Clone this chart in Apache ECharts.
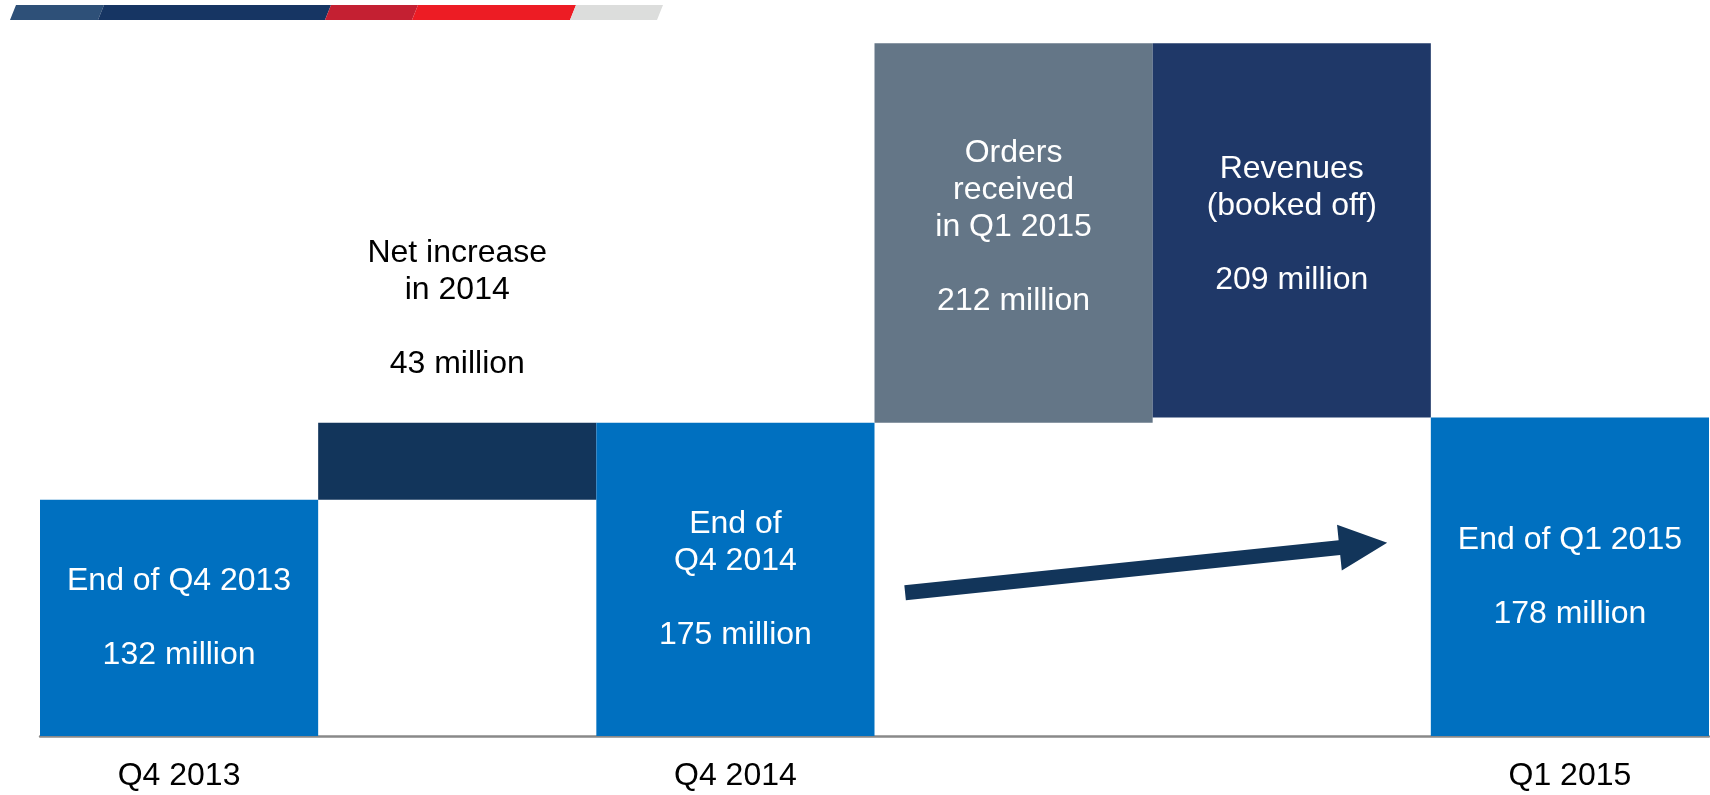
<!DOCTYPE html>
<html>
<head>
<meta charset="utf-8">
<script src="https://cdn.jsdelivr.net/npm/echarts@6/dist/echarts.min.js"></script>
<style>
html,body{margin:0;padding:0;background:#fff;}
#chart{width:1710px;height:795px;}
</style>
</head>
<body>
<div id="chart"></div>
<script>
// ---- data ----
const categories = ['Q4 2013', 'Net increase 2014', 'Q4 2014', 'Orders Q1 2015', 'Revenues Q1 2015', 'Q1 2015'];
const tickLabels = ['Q4 2013', '', 'Q4 2014', '', '', 'Q1 2015'];
const baseValues = [0, 132, 0, 175, 178, 0];
const barValues = [132, 43, 175, 212, 209, 178];
const barLabels = [
  'End of Q4 2013\n\n132 million',
  'Net increase\nin 2014\n\n43 million',
  'End of\nQ4 2014\n\n175 million',
  'Orders\nreceived\nin Q1 2015\n\n212 million',
  'Revenues\n(booked off)\n\n209 million',
  'End of Q1 2015\n\n178 million'
];
const barColors = ['#0070C0', '#12355B', '#0070C0', '#647687', '#1F3868', '#0070C0'];
// arrow annotation, in category index (+ band fraction) and value units
const arrowFrom = { cat: 3, offset: -0.39, value: 80 };
const arrowTo = { cat: 4, offset: 0.343, value: 108 };

const FONT = '"Liberation Sans", Arial, sans-serif';
const chart = echarts.init(document.getElementById('chart'));

const mainData = barValues.map((v, i) => {
  const isNet = i === 1;
  const isTop = i === 3 || i === 4;
  return {
    value: v,
    itemStyle: { color: barColors[i] },
    label: {
      show: true,
      formatter: barLabels[i],
      position: isNet ? 'top' : 'inside',
      distance: isNet ? 40 : 5,
      offset: isTop ? [0, -6] : [0, 0],
      color: isNet ? '#000000' : '#ffffff',
      fontSize: 32,
      lineHeight: 37,
      fontFamily: FONT,
      align: 'center'
    }
  };
});

chart.setOption({
  animation: false,
  grid: { left: 40, right: 1, top: 20, bottom: 57 },
  xAxis: {
    type: 'category',
    data: categories,
    axisTick: { show: false },
    axisLine: { show: true, lineStyle: { color: '#898989', width: 2.5 } },
    axisLabel: {
      interval: 0,
      margin: 22,
      color: '#000000',
      fontSize: 32,
      lineHeight: 37,
      fontFamily: FONT,
      formatter: (v, idx) => tickLabels[idx]
    }
  },
  yAxis: { type: 'value', min: 0, max: 400, show: false, splitLine: { show: false } },
  series: [
    {
      type: 'bar', stack: 'w', data: baseValues, silent: true,
      itemStyle: { color: 'rgba(0,0,0,0)' }, barCategoryGap: '0%'
    },
    {
      type: 'bar', stack: 'w', data: mainData, barCategoryGap: '0%'
    }
  ]
});

// ---- decorations: top stripe and arrow ----
function px(cat, offset, value) {
  const c0 = chart.convertToPixel({ gridIndex: 0 }, [0, 0]);
  const c1 = chart.convertToPixel({ gridIndex: 0 }, [1, 0]);
  const band = c1[0] - c0[0];
  const p = chart.convertToPixel({ gridIndex: 0 }, [cat, value]);
  return [p[0] + offset * band, p[1]];
}
const s = px(arrowFrom.cat, arrowFrom.offset, arrowFrom.value);
const t = px(arrowTo.cat, arrowTo.offset, arrowTo.value);
const dx = t[0] - s[0], dy = t[1] - s[1];
const len = Math.sqrt(dx * dx + dy * dy);
const ux = dx / len, uy = dy / len, nx = -uy, ny = ux;
const hw = 7.5, headW = 23, headL = 48;
const bx = t[0] - ux * headL, by = t[1] - uy * headL;
const arrowPts = [
  [s[0] + nx * hw, s[1] + ny * hw],
  [bx + nx * hw, by + ny * hw],
  [bx + nx * headW, by + ny * headW],
  [t[0], t[1]],
  [bx - nx * headW, by - ny * headW],
  [bx - nx * hw, by - ny * hw],
  [s[0] - nx * hw, s[1] - ny * hw]
];

const stripeEdges = [10, 98, 325, 412, 570, 657];
const stripeColors = ['#2E5078', '#163563', '#C42032', '#ED1C24', '#DCDDDC'];
const sTop = 5, sBot = 20, skew = 6;
const stripe = stripeColors.map((c, i) => ({
  type: 'polygon',
  shape: { points: [
    [stripeEdges[i] + skew, sTop], [stripeEdges[i + 1] + skew, sTop],
    [stripeEdges[i + 1], sBot], [stripeEdges[i], sBot]
  ] },
  style: { fill: c }
}));

chart.setOption({
  graphic: stripe.concat([{
    type: 'polygon',
    shape: { points: arrowPts },
    style: { fill: '#12355A' }
  }])
});
</script>
</body>
</html>
